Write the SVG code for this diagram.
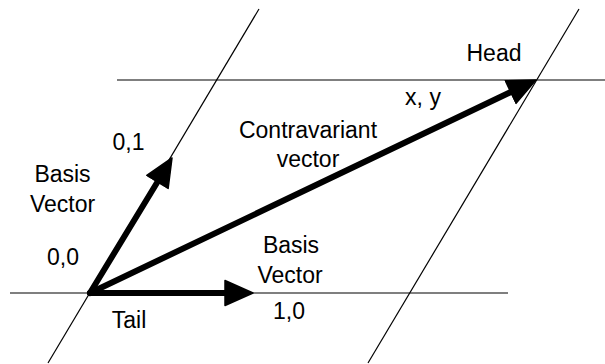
<svg xmlns="http://www.w3.org/2000/svg" width="605" height="364" viewBox="0 0 605 364">
<style>
.grid{stroke:#000;stroke-width:1.2;fill:none}
.vec{stroke:#000;stroke-width:6;fill:none;stroke-linecap:round}
text{font-family:"Liberation Sans",Arial,sans-serif;font-size:23px;fill:#000;text-anchor:middle}
</style>
<defs>
<marker id="ah" markerUnits="userSpaceOnUse" markerWidth="32" markerHeight="30" viewBox="-1 -15 32 30" refX="2" refY="0" orient="auto">
<path d="M0,-12.5 L28,0 L0,12.5 Z" fill="#000" stroke="#000" stroke-width="1.5" stroke-linejoin="round"/>
</marker>
</defs>
<g id="grid">
<line class="grid" x1="10" y1="293" x2="508" y2="293"/>
<line class="grid" x1="117" y1="80" x2="605" y2="80"/>
<line class="grid" x1="48" y1="363" x2="259" y2="9"/>
<line class="grid" x1="368" y1="363" x2="579" y2="9"/>
</g>
<g id="connectors">
<line class="vec" x1="90" y1="293" x2="227" y2="293" marker-end="url(#ah)"/>
<line class="vec" x1="90" y1="293" x2="158.5" y2="180.2" marker-end="url(#ah)"/>
<line class="vec" x1="90" y1="293" x2="512.5" y2="91.2" marker-end="url(#ah)"/>
</g>
<g id="labels">
<text x="494" y="61">Head</text>
<text x="423" y="105">x, y</text>
<text x="128.5" y="150">0,1</text>
<text x="62.5" y="182">Basis</text>
<text x="62.5" y="212">Vector</text>
<text x="63" y="265">0,0</text>
<text x="308" y="138">Contravariant</text>
<text x="308" y="167">vector</text>
<text x="291" y="253">Basis</text>
<text x="290" y="283">Vector</text>
<text x="289" y="319">1,0</text>
<text x="129" y="328">Tail</text>
</g>
</svg>
